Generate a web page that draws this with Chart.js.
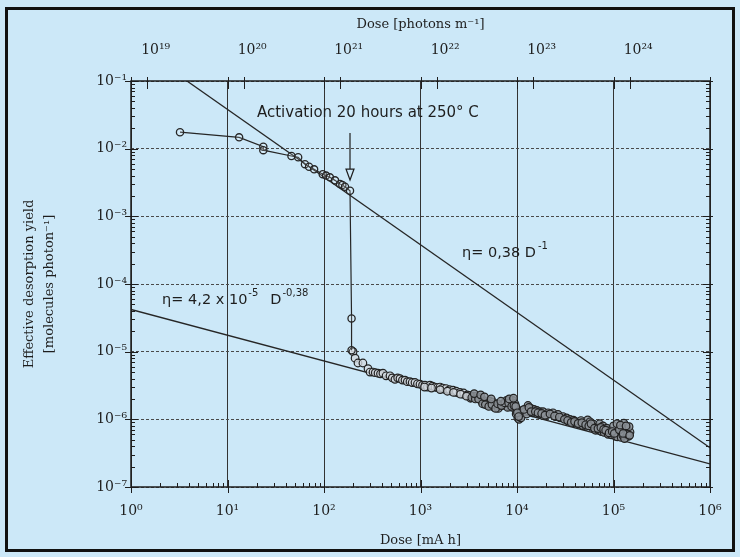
<!DOCTYPE html>
<html><head><meta charset="utf-8">
<script src="https://cdn.jsdelivr.net/npm/chart.js@4.4.1/dist/chart.umd.min.js"></script>
<style>
html,body{margin:0;padding:0;background:#cce8f8;width:740px;height:557px;overflow:hidden}
#frame{position:absolute;left:5px;top:7px;width:724px;height:539px;border:3px solid #111}
#wrap{position:absolute;left:0;top:0;width:740px;height:557px}
</style></head><body>
<div id="frame"></div>
<div id="wrap"><canvas id="c" width="740" height="557"></canvas></div>
<script>
// ---- data (dose in mA h, yield in molecules/photon) ----
const preDose  = [3.22, 13.2, 23.5, 23.5, 46, 54, 63.5, 70, 79, 97, 105, 115, 130, 146.5, 155, 165, 186, 193, 193];
const preYield = [0.0175, 0.0147, 0.0107, 0.0095, 0.0078, 0.00745, 0.0059, 0.0054, 0.00495, 0.0042, 0.0040, 0.00377, 0.0034, 0.0030, 0.0029, 0.00274, 0.00239, 3.1e-5, 1.05e-5];

const postDose = [200,210,225,253,286,300,322,340,363,385,408,440,483,510,544,580,613,650,691,730,778,820,877,930,988,1050,1113,1180,1254,1330,1413,1500,1592,1700,1837,2000,2172,2350,2566,2800,3033,3250,3500,3800,4140,4500,4890,5250,5640,6100,6660,7160,7800,8460,9000,9530,10000,10200,10740,11400,12100,13000,13960,15000,16100,17300,18580,21000,23600,26600,30000,32600,35400,38500,41800,46000,50700,54000,57100,62000,67400,72000,77800,85000,92000,100000,108700,112000,116700,122000,128000,133000,138000,143000,148300,
  3300,4300,5000,5800,6400,8000,9800,10500,11000,12600,14500,17000,20000,25000,28000,34000,40000,44000,48000,52000,60000,65000,70000,75000,80000,88000,95000,105000,110000,120000,125000,130000,140000,145000,
  1100,1300,1600,1900,2200,2600,3000,3400,3700,4000,4400,4700,5100,5500,6000,6300,6900,7500,8200,8800,9300,9700,10100,10400,11800,13300,14000,15500,16500,18000,19500,22000,24500,27500,31000,33500,36500,39500,43000,47000,51500,55500,58500,63500,69000,74000,79000,83000,90000,97000,102000,115000,118000,126000,135000,147000,
  3600,4200,4600,5400,6800,8300,9200];
const postYield = [1.0e-5,8.0e-6,6.8e-6,6.8e-6,5.6e-6,5.0e-6,5.0e-6,4.9e-6,4.8e-6,4.7e-6,4.8e-6,4.4e-6,4.4e-6,4.1e-6,3.9e-6,4.1e-6,4.0e-6,3.8e-6,3.8e-6,3.6e-6,3.6e-6,3.5e-6,3.5e-6,3.35e-6,3.3e-6,3.2e-6,3.2e-6,3.0e-6,3.2e-6,3.1e-6,3.0e-6,2.95e-6,3.0e-6,2.9e-6,2.85e-6,2.75e-6,2.7e-6,2.6e-6,2.5e-6,2.45e-6,2.3e-6,2.25e-6,2.2e-6,2.2e-6,2.1e-6,1.9e-6,1.75e-6,1.85e-6,1.8e-6,1.6e-6,1.55e-6,1.7e-6,1.9e-6,1.6e-6,1.9e-6,1.7e-6,1.4e-6,1.05e-6,1.15e-6,1.35e-6,1.3e-6,1.6e-6,1.45e-6,1.4e-6,1.35e-6,1.3e-6,1.3e-6,1.25e-6,1.25e-6,1.18e-6,1.1e-6,1.05e-6,1.0e-6,9.7e-7,9.2e-7,9.6e-7,8.6e-7,9.8e-7,9.2e-7,8.5e-7,7.6e-7,8.6e-7,8.0e-7,7.4e-7,6.8e-7,8.0e-7,8.6e-7,6.5e-7,6.0e-7,7.5e-7,8.8e-7,6.4e-7,7.2e-7,5.6e-7,6.5e-7,
  2.05e-6,1.85e-6,1.6e-6,1.5e-6,1.45e-6,1.5e-6,1.2e-6,1.0e-6,1.05e-6,1.2e-6,1.25e-6,1.2e-6,1.15e-6,1.1e-6,1.05e-6,9.4e-7,8.8e-7,8.5e-7,8.1e-7,7.9e-7,7.6e-7,6.9e-7,7.0e-7,6.6e-7,6.4e-7,6.0e-7,5.9e-7,5.6e-7,5.5e-7,5.4e-7,5.8e-7,5.2e-7,6.0e-7,7.8e-7,
  3.0e-6,2.9e-6,2.75e-6,2.6e-6,2.5e-6,2.35e-6,2.2e-6,2.1e-6,2.0e-6,2.0e-6,1.7e-6,1.65e-6,1.55e-6,1.65e-6,1.45e-6,1.7e-6,1.6e-6,1.75e-6,1.75e-6,1.55e-6,1.6e-6,1.55e-6,1.25e-6,1.1e-6,1.4e-6,1.5e-6,1.3e-6,1.3e-6,1.25e-6,1.22e-6,1.15e-6,1.2e-6,1.12e-6,1.08e-6,1.0e-6,9.6e-7,9.0e-7,9.3e-7,8.7e-7,8.9e-7,8.3e-7,8.0e-7,8.6e-7,7.4e-7,7.3e-7,7.6e-7,7.1e-7,6.9e-7,6.3e-7,6.6e-7,6.2e-7,7.0e-7,8.2e-7,6.2e-7,8.0e-7,5.8e-7,
  2.4e-6,2.3e-6,2.15e-6,2.0e-6,1.85e-6,2.0e-6,2.05e-6];

// fitted power laws (end points)
const fitADose  = [3.8, 1e6];   const fitAYield = [0.1, 3.8e-7];     // eta = 0.38 D^-1
const fitBDose  = [1, 1e6];     const fitBYield = [4.2e-5, 2.2e-7];  // eta = 4.2e-5 D^-0.38

// axes
const doseRange   = [1, 1e6];
const photonRange = [6.8e18, 6.8e24];
const yieldRange  = [1e-7, 1e-1];

// annotation anchors (data coordinates)
const noteActivation = {dose: 20.2, yield: 0.0336, text: 'Activation 20 hours at 250° C'};
const arrowAct = {dose: 186, from: 0.017, to: 3.44e-3};
const noteFitA = {dose: 2690, yield: 2.87e-4};
const noteFitB = {dose: 2.1, yield: 5.8e-5};

const pts = (xs, ys) => xs.map((x, i) => ({x, y: ys[i]}));
const SUP = {'0':'⁰','1':'¹','2':'²','3':'³','4':'⁴','5':'⁵','6':'⁶','7':'⁷','8':'⁸','9':'⁹','-':'⁻'};
function pow10Label(v){
  const e = Math.log10(v); const r = Math.round(e);
  if (Math.abs(e - r) > 1e-6) return null;
  return '10' + String(r).split('').map(c => SUP[c]).join('');
}
const SERIF = '"DejaVu Serif", "Liberation Serif", serif';
const SANS = '"DejaVu Sans", sans-serif';
const INK = '#1e1e1e';

function drawRich(ctx, parts, x, y){
  let cx = x;
  for (const p of parts){
    ctx.font = p.sup ? '10px ' + SANS : '14.5px ' + SANS;
    ctx.fillText(p.t, cx, p.sup ? y - 7 : y);
    cx += ctx.measureText(p.t).width + (p.gap || 0);
  }
}

const decor = {
  id: 'decor',
  afterDatasetsDraw(chart){
    const {ctx, chartArea: a, scales} = chart;
    const x = scales.x, y = scales.y, x2 = scales.x2;
    ctx.save();
    ctx.strokeStyle = INK; ctx.lineWidth = 1;
    ctx.beginPath();
    for (let e = 0; e <= 6; e++){
      for (let m = 1; m <= 9; m++){
        const v = m * Math.pow(10, e); if (v > 1e6 * 1.0001) break;
        const px = Math.round(x.getPixelForValue(v)) + 0.5;
        if (m === 1){
          ctx.moveTo(px, a.bottom + 6); ctx.lineTo(px, a.bottom - 7);
          ctx.moveTo(px, a.top - 4); ctx.lineTo(px, a.top + 8);
        } else {
          ctx.moveTo(px, a.bottom); ctx.lineTo(px, a.bottom - 4);
        }
      }
    }
    for (let e = -7; e <= -1; e++){
      for (let m = 1; m <= 9; m++){
        const v = m * Math.pow(10, e); if (v > 0.10001) break;
        const py = Math.round(y.getPixelForValue(v)) + 0.5;
        if (m === 1){
          ctx.moveTo(a.left - 6, py); ctx.lineTo(a.left + 7, py);
          ctx.moveTo(a.right + 3, py); ctx.lineTo(a.right - 7, py);
        } else {
          ctx.moveTo(a.left, py); ctx.lineTo(a.left + 4, py);
          ctx.moveTo(a.right, py); ctx.lineTo(a.right - 4, py);
        }
      }
    }
    for (let e = 19; e <= 24; e++){
      const px = Math.round(x2.getPixelForValue(Math.pow(10, e))) + 0.5;
      ctx.moveTo(px, a.top - 4); ctx.lineTo(px, a.top + 8);
    }
    ctx.stroke();
    ctx.lineWidth = 1.5;
    ctx.strokeRect(a.left, a.top, a.right - a.left, a.bottom - a.top);

    // arrow
    const ax = x.getPixelForValue(arrowAct.dose);
    const ay0 = y.getPixelForValue(arrowAct.from), ay1 = y.getPixelForValue(arrowAct.to);
    ctx.lineWidth = 1.2;
    ctx.beginPath(); ctx.moveTo(ax, ay0); ctx.lineTo(ax, ay1 - 11); ctx.stroke();
    ctx.beginPath(); ctx.moveTo(ax - 4, ay1 - 11); ctx.lineTo(ax + 4, ay1 - 11); ctx.lineTo(ax, ay1); ctx.closePath(); ctx.stroke();

    // texts
    ctx.fillStyle = INK; ctx.textBaseline = 'middle'; ctx.textAlign = 'left';
    ctx.font = '15px ' + SANS;
    ctx.fillText(noteActivation.text, x.getPixelForValue(noteActivation.dose), y.getPixelForValue(noteActivation.yield));
    drawRich(ctx, [{t:'η= 0,38 D', gap:2},{t:'-1', sup:true}], x.getPixelForValue(noteFitA.dose), y.getPixelForValue(noteFitA.yield));
    drawRich(ctx, [{t:'η= 4,2 x 10', gap:1},{t:'-5', sup:true, gap:12},{t:'D', gap:1},{t:'-0,38', sup:true}], x.getPixelForValue(noteFitB.dose), y.getPixelForValue(noteFitB.yield));
    ctx.restore();
  }
};

new Chart(document.getElementById('c'), {
  type: 'scatter',
  data: {
    datasets: [
      { label: 'before activation', data: pts(preDose, preYield), showLine: true,
        borderColor: '#262626', borderWidth: 1.2, pointRadius: 3.6, pointBorderWidth: 1.3,
        pointBorderColor: '#262626', pointBackgroundColor: 'rgba(255,255,255,0.15)' },
      { label: 'after activation', data: pts(postDose, postYield), showLine: false,
        pointRadius: 3.8, pointBorderWidth: 1.2, pointBorderColor: '#222',
        pointBackgroundColor: c => (c.raw && c.raw.x > 3000) ? 'rgba(140,146,152,0.85)' : 'rgba(210,216,222,0.8)' },
      { label: 'fit A', data: pts(fitADose, fitAYield), showLine: true, pointRadius: 0,
        borderColor: '#262626', borderWidth: 1.3 },
      { label: 'fit B', data: pts(fitBDose, fitBYield), showLine: true, pointRadius: 0,
        borderColor: '#262626', borderWidth: 1.3 }
    ]
  },
  options: {
    responsive: false, animation: false, devicePixelRatio: 1,
    layout: { padding: { left: 0, right: 30, top: 0, bottom: 0 } },
    plugins: { legend: { display: false }, tooltip: { enabled: false } },
    scales: {
      x: {
        type: 'logarithmic', position: 'bottom', min: doseRange[0], max: doseRange[1],
        afterFit: s => { s.height = 70; },
        border: { display: false },
        grid: { drawTicks: false, color: '#333', lineWidth: 1 },
        ticks: { autoSkip: false, maxRotation: 0, padding: 16, color: INK,
                 font: { family: SERIF, size: 14 }, callback: v => pow10Label(v) },
        title: { display: true, text: 'Dose [mA h]', color: INK,
                 font: { family: SERIF, size: 13 }, padding: { top: 0, bottom: 9 } }
      },
      x2: {
        type: 'logarithmic', position: 'top', min: photonRange[0], max: photonRange[1],
        afterFit: s => { s.height = 81; },
        border: { display: false },
        grid: { display: false, drawTicks: false },
        ticks: { autoSkip: false, maxRotation: 0, padding: 22, align: 'start', labelOffset: -6, color: INK,
                 font: { family: SERIF, size: 14 }, callback: v => pow10Label(v) },
        title: { display: true, text: 'Dose [photons m⁻¹]', color: INK,
                 font: { family: SERIF, size: 13 }, padding: { top: 17, bottom: 0 } }
      },
      y: {
        type: 'logarithmic', position: 'left', min: yieldRange[0], max: yieldRange[1],
        afterFit: s => { s.width = 131; },
        border: { display: false, dash: [3, 2] },
        grid: { drawTicks: false, color: '#4a4a4a', lineWidth: 1 },
        ticks: { autoSkip: false, padding: 4, color: INK,
                 font: { family: SERIF, size: 14 }, callback: v => pow10Label(v) },
        title: { display: true, text: ['Effective desorption yield', '[molecules photon⁻¹]'], color: INK,
                 font: { family: SERIF, size: 13, lineHeight: 1.5 }, padding: { top: 20, bottom: 0 } }
      }
    }
  },
  plugins: [decor]
});
</script></body></html>
